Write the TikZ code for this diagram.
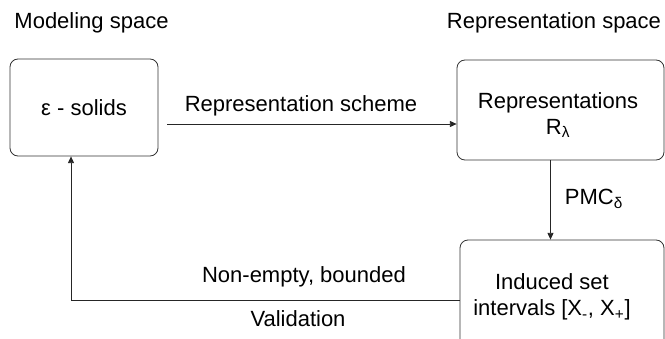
\documentclass[tikz,border=0pt]{standalone}
\usepackage{fontspec}
\setmainfont{Liberation Sans}
\usetikzlibrary{arrows.meta, positioning}

\begin{document}
\begin{tikzpicture}[
                x=0.75pt, y=-0.75pt,
                font=\fontsize{16.5}{19.5}\selectfont,
                box/.style={draw=black!80, rounded corners=6pt, line width=0.6pt, align=center, inner sep=0pt},
                arr/.style={-{Triangle[length=5pt, width=4.5pt]}, line width=0.6pt, draw=black!85},
                lbl/.style={inner sep=0pt, align=center}
            ]
            \useasboundingbox (0,0) rectangle (665,339);
            \clip (0,0) rectangle (665,339);

            % Titles of the two spaces
            \node[lbl] (modhead) at (91.5,23) {Modeling space};
            \node[lbl] (rephead) at (554,23) {Representation space};

            % The three boxes
            \node[box, minimum width=111pt, minimum height=72.75pt] (solids) at (84,107.5) {ε - solids};
            \node[box, minimum width=155.25pt, minimum height=75pt] (repr) at (560.5,110) {};
            \node[lbl] (reprtext) at (558,115) {Representations\\R\textsubscript{λ}};
            \node[box, minimum width=153pt, minimum height=90pt] (induced) at (562,300) {};
            \node[lbl] (inducedtext) at (552,297) {Induced set\\intervals [X\textsubscript{-}, X\textsubscript{+}]};

            % Representation scheme
            \coordinate (schemestart) at (167,124);
            \draw[arr] (schemestart) -- (schemestart -| repr.west);
            \node[lbl] (schemelbl) at (301,106) {Representation scheme};

            % PMC
            \coordinate (pmcx) at (550.5,0);
            \draw[arr] (pmcx |- repr.south) -- (pmcx |- induced.north);
            \node[lbl] (pmclbl) at (594,199) {PMC\textsubscript{δ}};

            % Validation back to the modeling space
            \coordinate (valcorner) at (71,300);
            \draw[arr] (induced.west) -- (valcorner) -- (valcorner |- solids.south);
            \node[lbl] (nonempty) at (304,277) {Non-empty, bounded};
            \node[lbl] (validation) at (298,319) {Validation};
        \end{tikzpicture}
\end{document}
